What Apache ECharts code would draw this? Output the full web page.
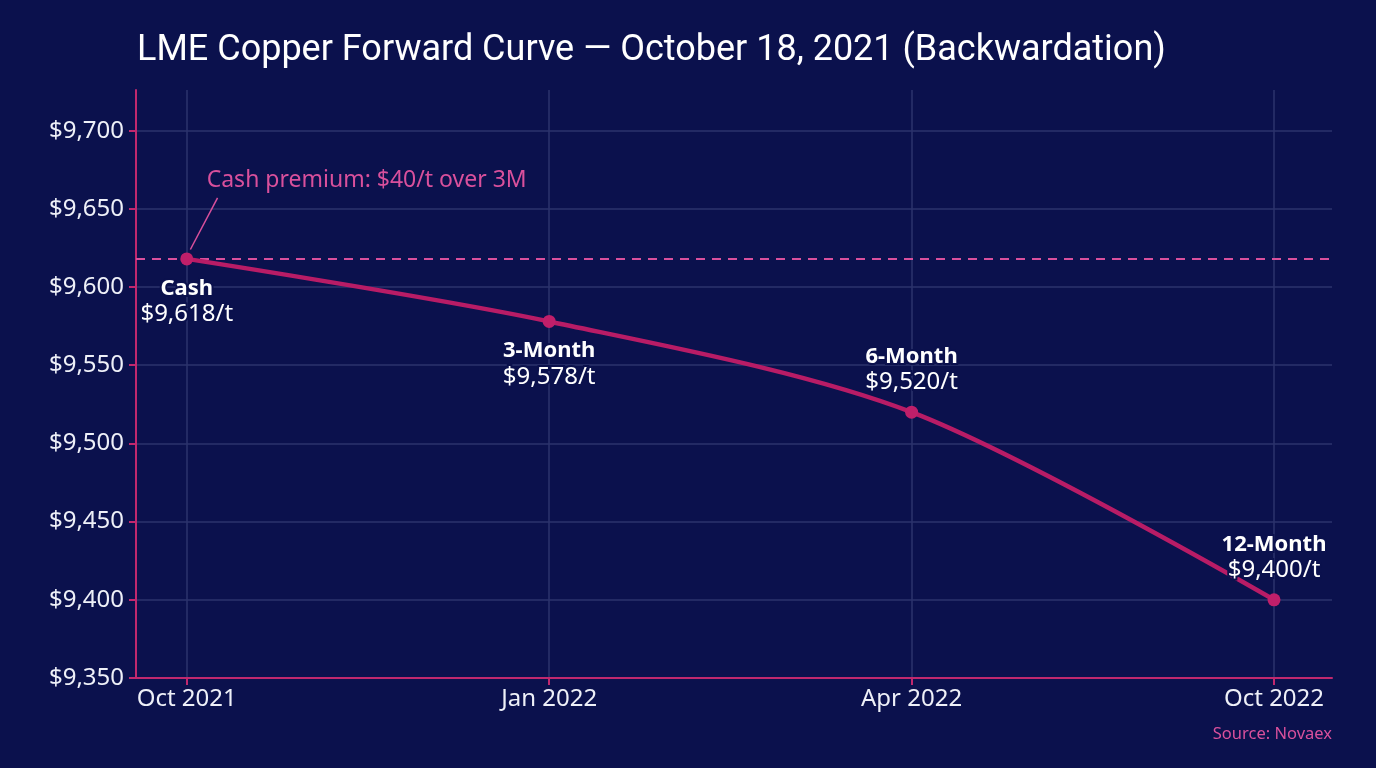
<!DOCTYPE html>
<html>
<head>
<meta charset="utf-8">
<script src="https://cdn.jsdelivr.net/npm/echarts@6/dist/echarts.min.js"></script>
<style>
  html, body { margin: 0; padding: 0; background: #0b114d; }
  #chart { width: 1376px; height: 768px; }
</style>
</head>
<body>
<div id="chart"></div>
<script>
// forward curve points (x = position index on the tenor axis)
const tenorIndex = [0, 1, 2, 3];
const tenorLabels = ['Oct 2021', 'Jan 2022', 'Apr 2022', 'Oct 2022'];
const tenorNames = ['Cash', '3-Month', '6-Month', '12-Month'];
const prices = [9618, 9578, 9520, 9400];
const labelSide = ['bottom', 'bottom', 'top', 'top'];
const yTicks = [9350, 9400, 9450, 9500, 9550, 9600, 9650, 9700];

const pink = '#c0286e';
const lightPink = '#d9509c';
const fontFam = '"Noto Sans", "Open Sans", sans-serif';

const chart = echarts.init(document.getElementById('chart'));

const fmt = v => '$' + v.toLocaleString('en-US');

const option = {
  backgroundColor: '#0b114d',
  title: {
    text: 'LME Copper Forward Curve — October 18, 2021 (Backwardation)',
    left: 132,
    top: 28,
    textStyle: { color: '#ffffff', fontSize: 36, fontWeight: 'normal', fontFamily: 'Roboto' }
  },
  graphic: [{
    type: 'text',
    right: 44,
    bottom: 25,
    style: { text: 'Source: Novaex', fill: lightPink, font: '16.5px ' + fontFam }
  }],
  grid: { left: 136, right: 44, top: 90, bottom: 90 },
  xAxis: {
    type: 'value',
    min: -0.14,
    max: 3.16,
    axisLine: { show: true, lineStyle: { color: pink, width: 2 } },
    axisTick: { show: true, length: 7, lineStyle: { color: pink, width: 2 }, customValues: tenorIndex },
    axisLabel: {
      customValues: tenorIndex,
      formatter: v => tenorLabels[Math.round(v)],
      color: '#eef0f8', fontSize: 24, fontFamily: fontFam, margin: 9
    },
    splitLine: { show: true, lineStyle: { color: '#2c336c', width: 1.5 } }
  },
  yAxis: {
    type: 'value',
    min: 9350,
    max: 9726,
    axisLine: { show: true, onZero: false, lineStyle: { color: pink, width: 2 } },
    axisTick: { show: true, length: 7, lineStyle: { color: pink, width: 2 }, customValues: yTicks },
    axisLabel: {
      customValues: yTicks,
      formatter: v => fmt(v),
      color: '#eef0f8', fontSize: 24, fontFamily: fontFam, margin: 12
    },
    splitLine: { show: true, lineStyle: { color: '#2c336c', width: 1.5 } }
  },
  series: [{
    type: 'line',
    smooth: 0.3,
    symbol: 'circle',
    symbolSize: 13,
    lineStyle: { color: '#b81c66', width: 4.5 },
    itemStyle: { color: '#c01f6a' },
    data: prices.map((p, i) => ({
      value: [tenorIndex[i], p],
      label: {
        show: true,
        position: labelSide[i],
        distance: 10,
        formatter: '{n|' + tenorNames[i] + '}\n{v|' + fmt(p) + '/t}',
        rich: {
          n: { color: '#ffffff', fontSize: 22, fontWeight: 'bold', fontFamily: fontFam, lineHeight: 26,
               textBorderColor: '#0b114d', textBorderWidth: 4 },
          v: { color: '#ffffff', fontSize: 24, fontFamily: fontFam, lineHeight: 26,
               textBorderColor: '#0b114d', textBorderWidth: 4 }
        }
      }
    })),
    markLine: {
      silent: true,
      symbol: 'none',
      label: { show: false },
      data: [
        { yAxis: prices[0], lineStyle: { color: lightPink, type: [9, 7], width: 2 } },
        [
          { coord: [0.01, 9624], lineStyle: { color: lightPink, type: 'solid', width: 1.5 } },
          { coord: [0.085, 9657] }
        ]
      ]
    },
    markPoint: {
      silent: true,
      symbol: 'circle',
      symbolSize: 0,
      data: [{
        coord: [0.055, 9668],
        label: {
          show: true,
          position: 'right',
          distance: 0,
          formatter: 'Cash premium: $40/t over 3M',
          color: lightPink,
          fontSize: 23,
          fontFamily: fontFam
        }
      }]
    },
    z: 5
  }]
};

chart.setOption(option);
</script>
</body>
</html>
